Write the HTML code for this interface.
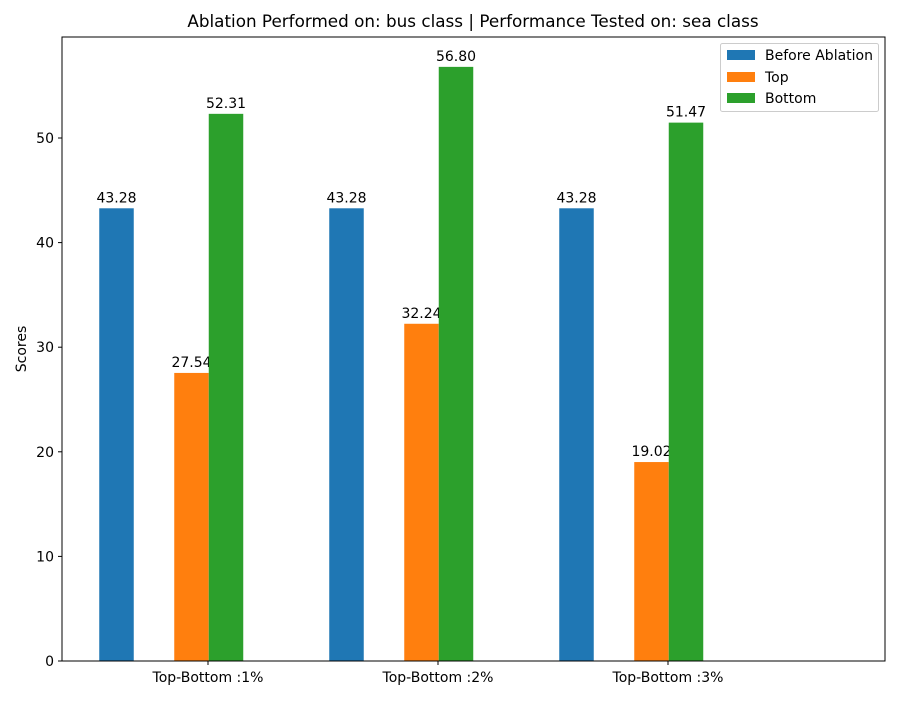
<!DOCTYPE html>
<html><head><meta charset="utf-8"><style>
body{margin:0;background:#fff;font-family:"Liberation Sans","DejaVu Sans",sans-serif;}
</style></head><body>
<svg id="chart" width="900" height="700" font-family="DejaVu Sans, Liberation Sans, sans-serif">
<rect width="900" height="700" fill="#fff"/>
<text x="473" y="27" font-size="16.8" text-anchor="middle">Ablation Performed on: bus class | Performance Tested on: sea class</text>
<text transform="translate(26,349) rotate(-90)" font-size="14" text-anchor="middle">Scores</text>
<g id="bars"></g><g id="ticks"></g>
<rect x="62" y="37" width="823" height="624" fill="none" stroke="#000" stroke-width="1"/>
<g>
<rect x="720.5" y="43.5" width="158" height="68" fill="#fff" stroke="#ccc" rx="2"/>
<g><rect x="727" y="50" width="28" height="10" fill="#1f77b4"/><text x="765" y="60" font-size="14">Before Ablation</text></g>
<g><rect x="727" y="72" width="28" height="10" fill="#ff7f0e"/><text x="765" y="82" font-size="14">Top</text></g>
<g><rect x="727" y="93" width="28" height="10" fill="#2ca02c"/><text x="765" y="103" font-size="14">Bottom</text></g>
</g>
</svg>
<script>
const categories = ["Top-Bottom :1%", "Top-Bottom :2%", "Top-Bottom :3%"];
const beforeValues = [43.28, 43.28, 43.28];
const topValues = [27.54, 32.24, 19.02];
const bottomValues = [52.31, 56.80, 51.47];
const yTicks = [0, 10, 20, 30, 40, 50];

const NS = "http://www.w3.org/2000/svg";
const y0 = 661, pxPerUnit = 10.46;
function yScale(v){ return y0 - v * pxPerUnit; }
function xScale(i){ return 208 + 230 * i; }
const barW = 34.5;
const series = [
  {vals: beforeValues, color: "#1f77b4", off: -91.5, name: "before"},
  {vals: topValues, color: "#ff7f0e", off: -16.5, name: "top"},
  {vals: bottomValues, color: "#2ca02c", off: 18, name: "bottom"}
];
const bars = document.getElementById("bars");
const ticks = document.getElementById("ticks");
series.forEach(s => {
  s.vals.forEach((v, i) => {
    const cx = xScale(i) + s.off;
    const r = document.createElementNS(NS, "rect");
    r.setAttribute("x", cx - barW/2);
    r.setAttribute("y", yScale(v));
    r.setAttribute("width", barW);
    r.setAttribute("height", y0 - yScale(v));
    r.setAttribute("fill", s.color);
    
    
    bars.appendChild(r);
    const t = document.createElementNS(NS, "text");
    t.setAttribute("x", cx);
    t.setAttribute("y", yScale(v) - 6);
    t.setAttribute("font-size", "14");
    t.setAttribute("text-anchor", "middle");
    t.textContent = v.toFixed(2);
    
    
    bars.appendChild(t);
  });
});
yTicks.forEach(v => {
  const l = document.createElementNS(NS, "line");
  l.setAttribute("x1", 58); l.setAttribute("x2", 62);
  l.setAttribute("y1", yScale(v)); l.setAttribute("y2", yScale(v));
  l.setAttribute("stroke", "#000");
  
  
  ticks.appendChild(l);
  const t = document.createElementNS(NS, "text");
  t.setAttribute("x", 54); t.setAttribute("y", yScale(v) + 5);
  t.setAttribute("font-size", "14"); t.setAttribute("text-anchor", "end");
  t.textContent = v;
  
  
  ticks.appendChild(t);
});
categories.forEach((c, i) => {
  const l = document.createElementNS(NS, "line");
  l.setAttribute("x1", xScale(i)); l.setAttribute("x2", xScale(i));
  l.setAttribute("y1", 661); l.setAttribute("y2", 665);
  l.setAttribute("stroke", "#000");
  
  
  ticks.appendChild(l);
  const t = document.createElementNS(NS, "text");
  t.setAttribute("x", xScale(i)); t.setAttribute("y", 682);
  t.setAttribute("font-size", "14"); t.setAttribute("text-anchor", "middle");
  t.textContent = c;
  
  
  ticks.appendChild(t);
});
</script>
</body></html>
